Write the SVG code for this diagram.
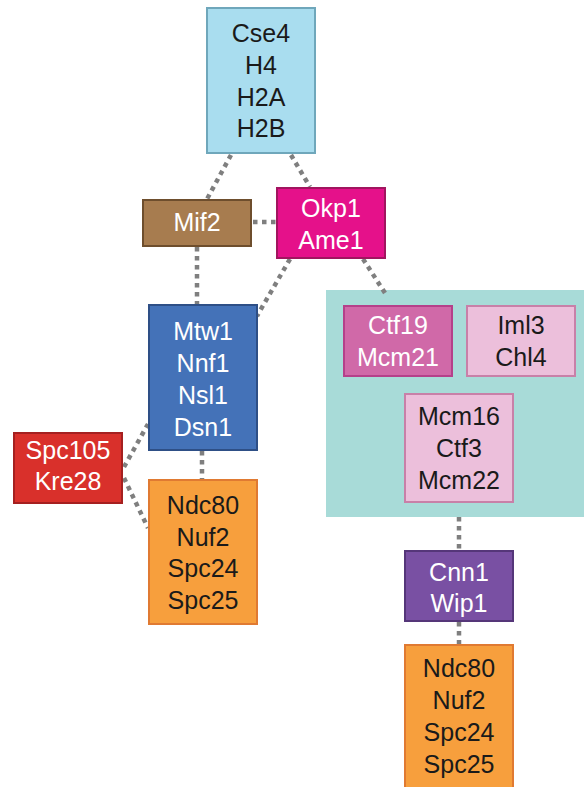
<svg xmlns="http://www.w3.org/2000/svg" width="584" height="787" viewBox="0 0 584 787">
<style>
text{font-family:"Liberation Sans",Arial,sans-serif;font-size:25px;text-anchor:middle}
.w{fill:#ffffff}.k{fill:#1a1a1a}
.c{stroke:#7f7f7f;stroke-width:4.5;stroke-dasharray:4.5 4.5;fill:none}
rect{stroke-width:2}
</style>
<rect x="0" y="0" width="584" height="787" fill="#ffffff"/>
<rect id="region" x="326" y="290" width="258" height="227" fill="#a8dbd8"/>
<g id="connectors">
<line class="c" x1="231" y1="155" x2="207" y2="199"/>
<line class="c" x1="291" y1="155" x2="310" y2="187"/>
<line class="c" x1="253" y1="222" x2="276" y2="222"/>
<line class="c" x1="197" y1="247" x2="197" y2="305"/>
<line class="c" x1="290" y1="259" x2="257" y2="316"/>
<line class="c" x1="363" y1="259" x2="385" y2="293"/>
<line class="c" x1="124" y1="467" x2="148" y2="424"/>
<line class="c" x1="124" y1="478" x2="148" y2="528"/>
<line class="c" x1="202" y1="451" x2="202" y2="480"/>
<line class="c" x1="459" y1="517" x2="459" y2="551"/>
<line class="c" x1="459" y1="622" x2="459" y2="645"/>
</g>
<g id="cse4">
<rect x="207" y="8" width="108" height="145" fill="#a9ddef" stroke="#6fa7bb"/>
<text class="k" x="261" y="42">Cse4</text>
<text class="k" x="261" y="74">H4</text>
<text class="k" x="261" y="106">H2A</text>
<text class="k" x="261" y="137">H2B</text>
</g>
<g id="mif2">
<rect x="143" y="200" width="108" height="46" fill="#a77c4f" stroke="#6e4e2d"/>
<text class="w" x="197" y="231">Mif2</text>
</g>
<g id="okp1">
<rect x="277" y="188" width="108" height="70" fill="#e5118a" stroke="#a1155f"/>
<text class="w" x="331" y="217">Okp1</text>
<text class="w" x="331" y="249">Ame1</text>
</g>
<g id="mtw1">
<rect x="149" y="305" width="108" height="145" fill="#4472b8" stroke="#2e4f86"/>
<text class="w" x="203" y="340">Mtw1</text>
<text class="w" x="203" y="372">Nnf1</text>
<text class="w" x="203" y="404">Nsl1</text>
<text class="w" x="203" y="436">Dsn1</text>
</g>
<g id="spc105">
<rect x="14" y="433" width="108" height="70" fill="#d9302b" stroke="#a52020"/>
<text class="w" x="68" y="459">Spc105</text>
<text class="w" x="68" y="490">Kre28</text>
</g>
<g id="ndc80a">
<rect x="149" y="480" width="108" height="144" fill="#f79f3d" stroke="#e07a32"/>
<text class="k" x="203" y="514">Ndc80</text>
<text class="k" x="203" y="546">Nuf2</text>
<text class="k" x="203" y="577">Spc24</text>
<text class="k" x="203" y="609">Spc25</text>
</g>
<g id="ctf19">
<rect x="344" y="306" width="108" height="70" fill="#d069a8" stroke="#b5408a"/>
<text class="w" x="398" y="334">Ctf19</text>
<text class="w" x="398" y="366">Mcm21</text>
</g>
<g id="iml3">
<rect x="467" y="306" width="108" height="70" fill="#ecbfdb" stroke="#c880a8"/>
<text class="k" x="521" y="334">Iml3</text>
<text class="k" x="521" y="366">Chl4</text>
</g>
<g id="mcm16">
<rect x="405" y="394" width="108" height="108" fill="#ecbfdb" stroke="#c880a8"/>
<text class="k" x="459" y="425">Mcm16</text>
<text class="k" x="459" y="457">Ctf3</text>
<text class="k" x="459" y="489">Mcm22</text>
</g>
<g id="cnn1">
<rect x="405" y="551" width="108" height="70" fill="#7950a3" stroke="#553679"/>
<text class="w" x="459" y="581">Cnn1</text>
<text class="w" x="459" y="612">Wip1</text>
</g>
<g id="ndc80b">
<rect x="405" y="645" width="108" height="150" fill="#f79f3d" stroke="#e07a32"/>
<text class="k" x="459" y="677">Ndc80</text>
<text class="k" x="459" y="709">Nuf2</text>
<text class="k" x="459" y="741">Spc24</text>
<text class="k" x="459" y="773">Spc25</text>
</g>
</svg>
